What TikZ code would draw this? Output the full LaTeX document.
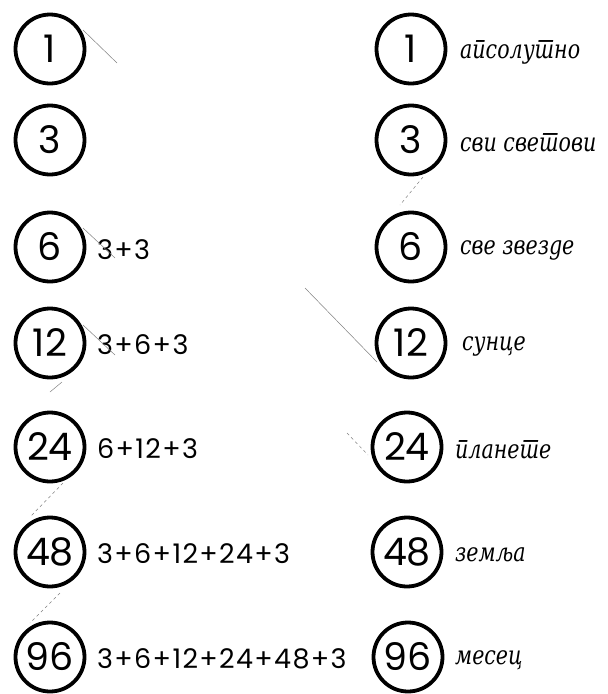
\documentclass[tikz,border=0pt]{standalone}
\usepackage{fontspec}
\newfontfamily\numfont{Poppins}
\newfontfamily\sumfont[LetterSpace=5]{Poppins}
\newfontfamily\lblfont[Script=Cyrillic,Language=Serbian,FakeStretch=0.88]{DejaVu Serif Condensed}
\begin{document}
\begin{tikzpicture}[x=1pt,y=-1pt,
  num/.style={circle,draw,line width=3.8pt,minimum size=69pt,inner sep=0pt,font=\numfont\fontsize{38}{38}\selectfont},
  sumtxt/.style={anchor=west,inner sep=0pt,font=\sumfont\fontsize{27}{27}\selectfont},
  lbl/.style={anchor=west,inner sep=0pt,font=\lblfont\itshape\fontsize{26}{26}\selectfont},
  artifact/.style={line width=0.5pt,gray}]
\useasboundingbox (0,0) rectangle (608,694);
% left column
\node[num] (l1) at (50,49) {1};
\node[num] (l3) at (50,140) {3};
\node[num] (l6) at (50,247) {6};
\node[num] (l12) at (50,343) {12};
\node[num] (l24) at (50,447) {24};
\node[num] (l48) at (50,552) {48};
\node[num] (l96) at (50,657) {96};
\node[sumtxt] (s6) at (97,250) {3+3};
\node[sumtxt] (s12) at (97,345) {3+6+3};
\node[sumtxt] (s24) at (97,449) {6+12+3};
\node[sumtxt] (s48) at (97,554) {3+6+12+24+3};
\node[sumtxt] (s96) at (97,659) {3+6+12+24+48+3};
% right column
\node[num] (r1) at (411,49) {1};
\node[num] (r3) at (411,140) {3};
\node[num] (r6) at (411,247) {6};
\node[num] (r12) at (411,343) {12};
\node[num] (r24) at (407,447) {24};
\node[num] (r48) at (407,552) {48};
\node[num] (r96) at (408,657) {96};
\node[lbl] (t1) at (460,52) {апсолутно};
\node[lbl] (t3) at (460,143) {сви светови};
\node[lbl] (t6) at (460,250) {све звезде};
\node[lbl] (t12) at (462,346) {сунце};
\node[lbl] (t24) at (455,450) {планете};
\node[lbl] (t48) at (455,555) {земља};
\node[lbl] (t96) at (455,660) {месец};
% faint scan strokes
\coordinate (a1) at (83,30); \coordinate (a2) at (117,63);
\draw[artifact] (a1) -- (a2);
\coordinate (b1) at (83,228); \coordinate (b2) at (115,258);
\draw[artifact] (b1) -- (b2);
\coordinate (c1) at (83,325); \coordinate (c2) at (115,355);
\draw[artifact] (c1) -- (c2);
\coordinate (d1) at (50,392); \coordinate (d2) at (62,382);
\draw[artifact] (d1) -- (d2);
\coordinate (e1) at (63,483); \coordinate (e2) at (30,517);
\draw[artifact,dashed] (e1) -- (e2);
\coordinate (f1) at (60,593); \coordinate (f2) at (30,623);
\draw[artifact,dashed] (f1) -- (f2);
\coordinate (g1) at (423,177); \coordinate (g2) at (400,205);
\draw[artifact,dashed] (g1) -- (g2);
\coordinate (h1) at (305,288); \coordinate (h2) at (377,362);
\draw[artifact] (h1) -- (h2);
\coordinate (i1) at (347,433); \coordinate (i2) at (368,455);
\draw[artifact,dashed] (i1) -- (i2);
\end{tikzpicture}
\end{document}
